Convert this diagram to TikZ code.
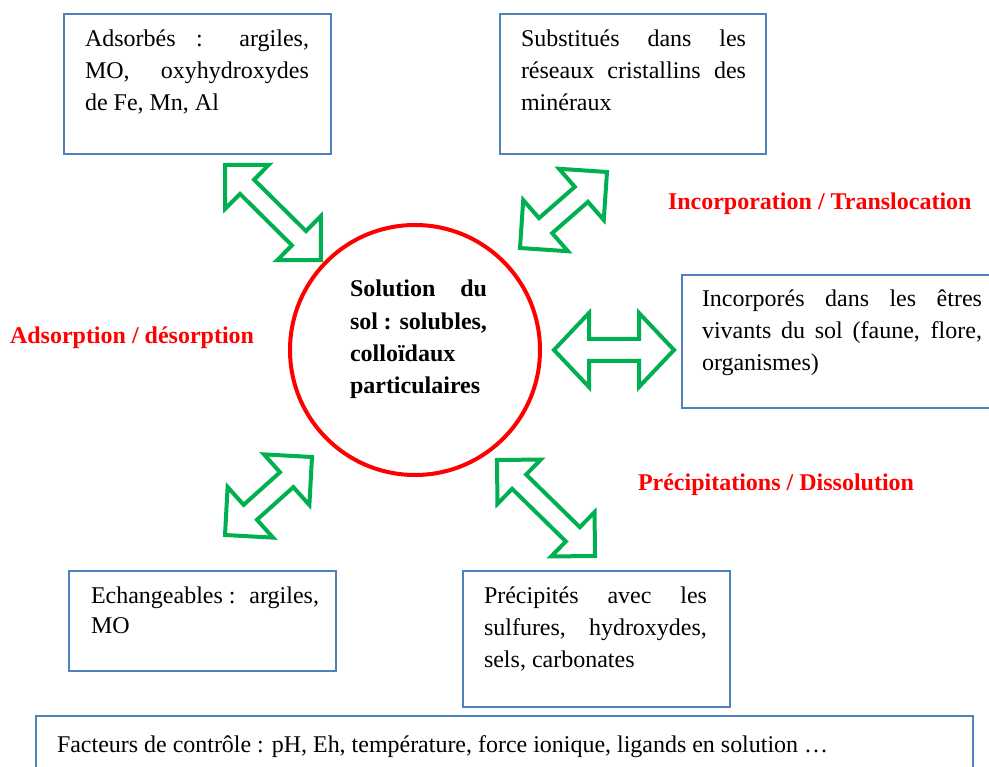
\documentclass[tikz,border=0pt]{standalone}
\usepackage{fontspec}
\setmainfont{Liberation Serif}
\usepackage{graphicx}
\usetikzlibrary{calc}
\definecolor{boxblue}{HTML}{4F81BD}
\definecolor{arrgreen}{HTML}{00B050}
\definecolor{lblred}{HTML}{FF0000}
\newcommand\dblarrow[5]{%
  \path ($(#1)!#3!(#2)$) coordinate (ah) ($(#2)!#3!(#1)$) coordinate (bh);
  \draw[blockarr] (#1) -- ($(ah)!#4!90:(#2)$) -- ($(ah)!#5!90:(#2)$)
    -- ($(bh)!#5!-90:(#1)$) -- ($(bh)!#4!-90:(#1)$) -- (#2)
    -- ($(bh)!#4!90:(#1)$) -- ($(bh)!#5!90:(#1)$)
    -- ($(ah)!#5!-90:(#2)$) -- ($(ah)!#4!-90:(#2)$) -- cycle;}
\newcommand\jline[1]{\makebox[\linewidth][s]{#1}\par}
\newcommand\fline[1]{\makebox[\linewidth][l]{#1}\par}
\begin{document}
\begin{tikzpicture}[x=1pt,y=-1pt,
  box/.style={draw=boxblue,line width=1.5pt,fill=none,rectangle,anchor=north west,inner sep=0,outer sep=0},
  txt/.style={anchor=base west,inner sep=0,outer sep=0,font=\fontsize{24}{31.7}\selectfont},
  lbl/.style={anchor=base west,inner sep=0,outer sep=0,text=lblred,font=\fontsize{24}{30}\selectfont\bfseries},
  blockarr/.style={draw=arrgreen,line width=4pt,fill=white,line join=miter}]
\useasboundingbox (0,0) rectangle (989,767);
\clip (0,0) rectangle (989,767);
% boxes
\node[box,minimum width=267pt,minimum height=140pt] (b1) at (64,14) {};
\node[box,minimum width=266pt,minimum height=140pt] (b2) at (500,14) {};
\node[box,minimum width=328pt,minimum height=133pt] (b3) at (682,275) {};
\node[box,minimum width=267pt,minimum height=100pt] (b4) at (69,571) {};
\node[box,minimum width=267pt,minimum height=136pt] (b5) at (463,571) {};
\node[box,minimum width=937pt,minimum height=84pt] (b6) at (36,716) {};
% circle
\node[circle,draw=lblred,line width=4pt,minimum size=250pt,inner sep=0] (c) at (415,350) {};
% texts
\node[txt] (t1) at (85,47) {\parbox[t]{224pt}{\baselineskip=31.7pt
  \jline{Adsorbés : argiles,}\jline{MO, oxyhydroxydes}\fline{de Fe, Mn, Al}}};
\node[txt] (t2) at (521,47) {\parbox[t]{225pt}{\baselineskip=31.7pt
  \jline{Substitués dans les}\jline{réseaux cristallins des}\fline{minéraux}}};
\node[txt,font=\fontsize{24}{32.3}\selectfont\bfseries] (t3) at (350,297) {\parbox[t]{137pt}{\baselineskip=32.3pt
  \jline{Solution du}\jline{sol : solubles,}\fline{colloïdaux}\fline{particulaires}}};
\node[txt] (t4) at (702,307) {\parbox[t]{280pt}{\baselineskip=32pt
  \jline{Incorporés dans les êtres}\jline{vivants du sol (faune, flore,}\fline{organismes)}}};
\node[txt] (t5) at (91,603) {\parbox[t]{228pt}{\baselineskip=30.5pt
  \jline{Echangeables : ~argiles,}\fline{MO}}};
\node[txt] (t6) at (484,603) {\parbox[t]{223pt}{\baselineskip=32pt
  \jline{Précipités avec les}\jline{sulfures, hydroxydes,}\fline{sels, carbonates}}};
\node[txt] (t7) at (57,752) {\resizebox{771pt}{\height}{Facteurs de contrôle : pH, Eh, température, force ionique, ligands en solution …}};
% labels
\node[lbl] (l1) at (668,210) {Incorporation / Translocation};
\node[lbl] (l2) at (10,344) {Adsorption / désorption};
\node[lbl] (l3) at (638,490) {Précipitations / Dissolution};
% arrows
\coordinate (a1s) at (225,165); \coordinate (a1e) at (321,260);
\coordinate (a2s) at (607,172); \coordinate (a2e) at (520,248);
\coordinate (a3s) at (554,350); \coordinate (a3e) at (674,350);
\coordinate (a4s) at (312,457); \coordinate (a4e) at (225,535);
\coordinate (a5s) at (497,460); \coordinate (a5e) at (595,556);
\dblarrow{a1s}{a1e}{31pt}{31pt}{10pt}
\dblarrow{a2s}{a2e}{34pt}{34pt}{10pt}
\dblarrow{a3s}{a3e}{35pt}{37pt}{11pt}
\dblarrow{a4s}{a4e}{34pt}{34pt}{10pt}
\dblarrow{a5s}{a5e}{31pt}{31pt}{10pt}
\end{tikzpicture}
\end{document}
